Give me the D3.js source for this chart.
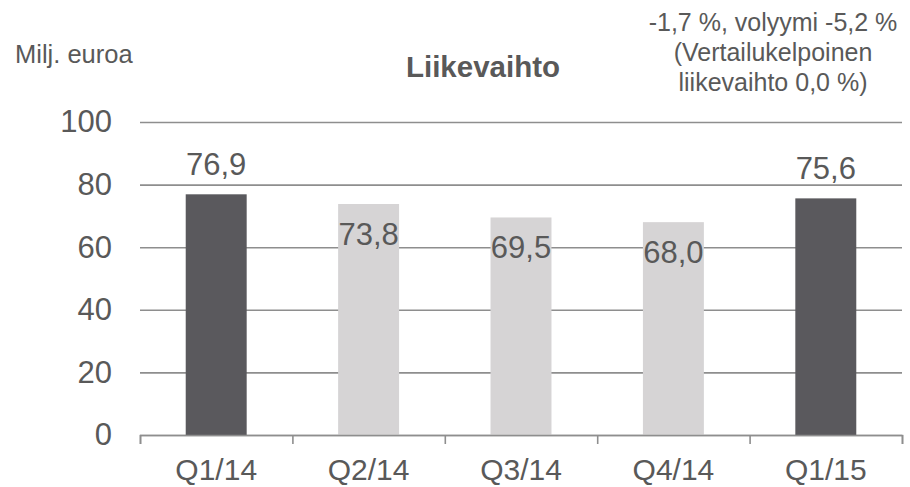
<!DOCTYPE html>
<html>
<head>
<meta charset="utf-8">
<script src="https://cdn.jsdelivr.net/npm/d3@7"></script>
<style>
  body { margin: 0; background: #fff; }
  text { font-family: "Liberation Sans", Arial, sans-serif; fill: #595959; }
</style>
</head>
<body>
<div id="wrapper"></div>
<script>
// data
const quarters = ["Q1/14", "Q2/14", "Q3/14", "Q4/14", "Q1/15"]
const sales = [76.9, 73.8, 69.5, 68.0, 75.6]
const highlighted = [true, false, false, false, true]
const yTicks = [0, 20, 40, 60, 80, 100]
const noteLines = ["-1,7 %, volyymi -5,2 %", "(Vertailukelpoinen", "liikevaihto 0,0 %)"]

const dataset = quarters.map((q, i) => ({ q: q, v: sales[i], hi: highlighted[i] }))
const xAccessor = d => d.q
const yAccessor = d => d.v

let dimensions = {
    width: 910,
    height: 487,
    margin: { top: 122, right: 8, bottom: 52, left: 140 },
}
dimensions.boundedWidth = dimensions.width - dimensions.margin.left - dimensions.margin.right
dimensions.boundedHeight = dimensions.height - dimensions.margin.top - dimensions.margin.bottom

const wrapper = d3.select("#wrapper")
    .append("svg")
    .attr("width", dimensions.width)
    .attr("height", dimensions.height)

const bounds = wrapper.append("g")
    .attr("transform", `translate(${dimensions.margin.left},${dimensions.margin.top})`)

const xScaler = d3.scaleBand()
    .domain(quarters)
    .range([0, dimensions.boundedWidth])
    .paddingInner(0.6)
    .paddingOuter(0.3)

const yScaler = d3.scaleLinear()
    .domain([0, 100])
    .range([dimensions.boundedHeight, 0])

// gridlines + y labels
const yAxisGen = d3.axisLeft(yScaler)
    .tickValues(yTicks)
    .tickSize(-dimensions.boundedWidth)
    .tickPadding(28)
const yAxis = bounds.append("g").call(yAxisGen)
yAxis.select(".domain").remove()
yAxis.selectAll(".tick line").attr("stroke", "#8e8e8e").attr("stroke-width", 1.6)
yAxis.selectAll(".tick text")
    .attr("font-size", "31px")
    .attr("fill", "#595959")
    .style("font-family", "Liberation Sans, Arial, sans-serif")

// bars
const barGroups = bounds.append("g").selectAll("g")
    .data(dataset)
    .enter()
    .append("g")

barGroups.append("rect")
    .attr("x", d => xScaler(xAccessor(d)))
    .attr("y", d => yScaler(yAccessor(d)))
    .attr("width", xScaler.bandwidth())
    .attr("height", d => dimensions.boundedHeight - yScaler(yAccessor(d)))
    .attr("fill", d => d.hi ? "#5a595d" : "#d6d4d5")

// value labels: above dark bars, inside light bars
barGroups.append("text")
    .attr("x", d => xScaler(xAccessor(d)) + xScaler.bandwidth() / 2)
    .attr("y", d => d.hi ? yScaler(yAccessor(d)) - 19 : yScaler(yAccessor(d)) + 41)
    .attr("text-anchor", "middle")
    .attr("font-size", "31px")
    .text(d => d3.format(".1f")(yAccessor(d)).replace(".", ","))

// bottom axis with ticks between categories
const edgeScaler = d3.scaleLinear()
    .domain([0, quarters.length])
    .range([0, dimensions.boundedWidth])
const edgeAxis = bounds.append("g")
    .attr("transform", `translate(0,${dimensions.boundedHeight})`)
    .call(d3.axisBottom(edgeScaler).tickValues(d3.range(quarters.length + 1)).tickSize(9).tickFormat(""))
edgeAxis.select(".domain").attr("stroke", "#8e8e8e").attr("stroke-width", 1.6)
edgeAxis.selectAll(".tick line").attr("stroke", "#8e8e8e").attr("stroke-width", 1.6)

const xAxis = bounds.append("g")
    .attr("transform", `translate(0,${dimensions.boundedHeight})`)
    .call(d3.axisBottom(xScaler).tickSize(0).tickPadding(24))
xAxis.select(".domain").remove()
xAxis.selectAll(".tick text")
    .attr("font-size", "30px")
    .attr("fill", "#595959")
    .style("font-family", "Liberation Sans, Arial, sans-serif")

// texts
wrapper.append("text")
    .attr("x", 15)
    .attr("y", 63)
    .attr("font-size", "25.5px")
    .text("Milj. euroa")

wrapper.append("text")
    .attr("x", 483)
    .attr("y", 77)
    .attr("text-anchor", "middle")
    .attr("font-size", "29.5px")
    .attr("font-weight", "bold")
    .text("Liikevaihto")

wrapper.append("text")
    .attr("text-anchor", "middle")
    .attr("font-size", "25px")
    .selectAll("tspan")
    .data(noteLines)
    .enter()
    .append("tspan")
    .attr("x", 773)
    .attr("y", (d, i) => 31 + i * 29.8)
    .text(d => d)
</script>
</body>
</html>
